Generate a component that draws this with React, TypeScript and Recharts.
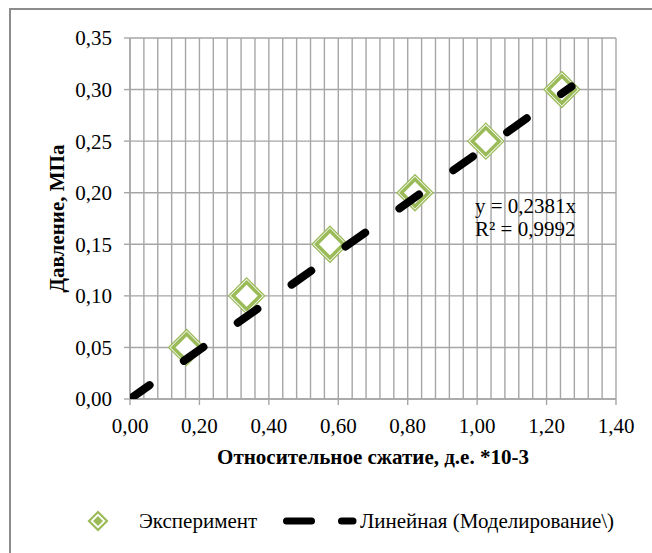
import React from "react";
import { ScatterChart, Scatter, XAxis, YAxis, CartesianGrid, Legend, Label } from "recharts";

// experiment points (relative compression *10-3, pressure MPa)
const expX = [0.163, 0.336, 0.576, 0.821, 1.025, 1.244];
const expY = [0.05, 0.1, 0.15, 0.2, 0.25, 0.3];

// linear trendline y = 0.2381x, endpoints as drawn
const trendX = [0, 1.272];
const trendY = [0, 0.3029];

const xTicks = [0, 0.2, 0.4, 0.6, 0.8, 1.0, 1.2, 1.4];
const yTicks = [0, 0.05, 0.1, 0.15, 0.2, 0.25, 0.3, 0.35];
const minorX = Array.from({ length: 36 }, (_, i) => i * 0.04);

const experiment = expX.map((x, i) => ({ x, y: expY[i] }));
const trend = trendX.map((x, i) => ({ x, y: trendY[i] }));

const GREEN = "#9bbb59";
const GRID = "#a6a6a6";
const FONT = "Liberation Serif, Times New Roman, serif";
const FS = 21;

const fmt = (v: number) => v.toFixed(2).replace(".", ",");

const dia = (cx: number, cy: number, r: number) =>
  `M${cx},${cy - r} L${cx + r},${cy} L${cx},${cy + r} L${cx - r},${cy} Z`;

function DiamondMarker(props: any) {
  const { cx, cy } = props;
  if (cx == null || cy == null) return <g />;
  return (
    <g>
      <path d={dia(cx, cy, 18)} fill="#fff" stroke={GREEN} strokeWidth={1.3} />
      <path d={dia(cx, cy, 13.5)} fill="#fff" stroke={GREEN} strokeWidth={3.5} />
    </g>
  );
}

function LegendBox() {
  return (
    <svg width={560} height={30} style={{ display: "block" }}>
      <path d={dia(18, 15, 9)} fill="#fff" stroke={GREEN} strokeWidth={2.2} />
      <path d={dia(18, 15, 5)} fill={GREEN} />
      <text x={59} y={15} dominantBaseline="central" fontFamily={FONT} fontSize={FS} fill="#000">
        Эксперимент
      </text>
      <line x1={206.5} y1={15} x2={231.5} y2={15} stroke="#000" strokeWidth={7} strokeLinecap="round" />
      <line x1={261.5} y1={15} x2={273} y2={15} stroke="#000" strokeWidth={7} strokeLinecap="round" />
      <text x={280} y={15} dominantBaseline="central" fontFamily={FONT} fontSize={FS} fill="#000">
        Линейная (Моделирование\)
      </text>
    </svg>
  );
}

export default function App() {
  return (
    <div style={{ position: "absolute", left: 0, top: 0, width: 652, height: 553, background: "#fff", fontFamily: FONT }}>
      <div
        style={{
          position: "absolute",
          left: 9,
          top: 8,
          width: 660,
          height: 560,
          borderLeft: "2px solid #8c8c8c",
          borderTop: "2px solid #8c8c8c",
        }}
      />
      <div style={{ position: "absolute", left: 0, top: 0 }}>
        <ScatterChart width={652} height={553} margin={{ top: 38, right: 36, bottom: 124, left: 70 }}>
          <CartesianGrid
            stroke={GRID}
            strokeWidth={1.4}
            verticalCoordinatesGenerator={({ xAxis, offset }: any) =>
              minorX.map((v) =>
                xAxis && typeof xAxis.scale === "function"
                  ? xAxis.scale(v)
                  : offset.left + (v / 1.4) * offset.width
              )
            }
          />
          <XAxis
            type="number"
            dataKey="x"
            domain={[0, 1.4]}
            ticks={xTicks}
            tickFormatter={fmt}
            height={30}
            tickSize={6}
            tickMargin={13}
            axisLine={{ stroke: GRID, strokeWidth: 1.4 }}
            tickLine={{ stroke: GRID, strokeWidth: 1.4 }}
            tick={{ fill: "#000", fontSize: FS, fontFamily: FONT }}
            allowDataOverflow
          >
            <Label
              content={(p: any) => {
                const vb = p.viewBox || { x: 130, width: 486 };
                return (
                  <text
                    x={vb.x + vb.width / 2}
                    y={457}
                    textAnchor="middle"
                    dominantBaseline="central"
                    fontFamily={FONT}
                    fontWeight="bold"
                    fontSize={FS}
                    fill="#000"
                  >
                    Относительное сжатие, д.е. *10-3
                  </text>
                );
              }}
            />
          </XAxis>
          <YAxis
            type="number"
            dataKey="y"
            domain={[0, 0.35]}
            ticks={yTicks}
            tickFormatter={fmt}
            width={60}
            tickSize={6}
            tickMargin={12}
            axisLine={{ stroke: GRID, strokeWidth: 1.4 }}
            tickLine={{ stroke: GRID, strokeWidth: 1.4 }}
            tick={{ fill: "#000", fontSize: FS, fontFamily: FONT }}
            allowDataOverflow
          >
            <Label
              content={(p: any) => {
                const vb = p.viewBox || { y: 38, height: 361 };
                const cy = vb.y + vb.height / 2;
                return (
                  <text
                    x={57}
                    y={cy}
                    transform={`rotate(-90 57 ${cy})`}
                    textAnchor="middle"
                    dominantBaseline="central"
                    fontFamily={FONT}
                    fontWeight="bold"
                    fontSize={FS}
                    fill="#000"
                  >
                    Давление, МПа
                  </text>
                );
              }}
            />
          </YAxis>
          <Scatter data={experiment} shape={DiamondMarker} isAnimationActive={false} />
          <Scatter
            data={trend}
            line={{ stroke: "#000", strokeWidth: 8, strokeDasharray: "24 42", strokeLinecap: "round" } as any}
            lineType="joint"
            shape={() => <g />}
            isAnimationActive={false}
          />
          <Legend
            layout="horizontal"
            verticalAlign="middle"
            align="center"
            content={() => <LegendBox />}
            wrapperStyle={{ top: 506, left: 80, width: 560 }}
          />
        </ScatterChart>
      </div>
      <div
        style={{
          position: "absolute",
          left: 475,
          top: 195,
          fontSize: FS,
          lineHeight: "23px",
          color: "#000",
          fontFamily: FONT,
          whiteSpace: "nowrap",
        }}
      >
        y = 0,2381x
        <br />
        R² = 0,9992
      </div>
    </div>
  );
}
